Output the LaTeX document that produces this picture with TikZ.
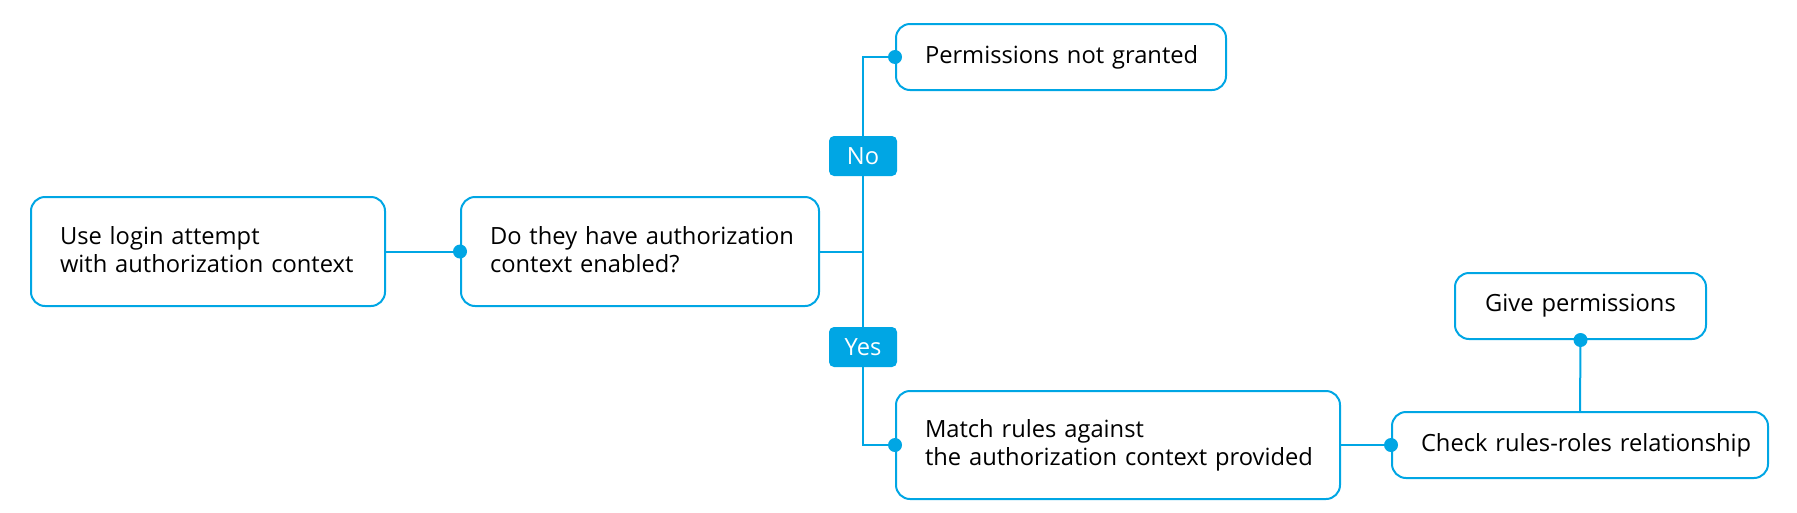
\documentclass[tikz,border=0pt]{standalone}
\usepackage{fontspec}
\setmainfont{Open Sans}
\definecolor{flowblue}{RGB}{0,166,228}
\tikzset{
  box/.style={draw=flowblue, line width=2pt, rounded corners=14pt, anchor=north west,
    inner xsep=29pt, inner ysep=0pt, align=left, font=\fontsize{23.7}{28}\selectfont, text=black},
  tag/.style={fill=flowblue, rounded corners=5pt, minimum width=68pt, minimum height=40pt,
    inner sep=0pt, text=white, font=\fontsize{23.7}{28}\selectfont},
  link/.style={draw=flowblue, line width=2pt},
  dot/.style={fill=flowblue, draw=none}
}
\begin{document}
\begin{tikzpicture}[x=1pt,y=-1pt]
\useasboundingbox (0,0) rectangle (1797,512);
\node[box, text width=296pt, minimum height=109pt] (b1) at (30,196) {\mbox{Use login attempt}\\\mbox{with authorization context}\vspace{4pt}};
\node[box, text width=300pt, minimum height=109pt] (b2) at (460,196) {\mbox{Do they have authorization}\\\mbox{context enabled?}\vspace{4pt}};
\node[box, text width=272pt, minimum height=66pt] (pn) at (895,23) {\mbox{Permissions not granted}};
\node[box, text width=386pt, minimum height=108pt] (m) at (895,390) {\mbox{Match rules against}\\\mbox{the authorization context provided}};
\node[box, text width=318pt, minimum height=66pt] (c) at (1391,411) {\mbox{Check rules-roles relationship}};
\node[box, text width=193pt, minimum height=66pt, align=center] (g) at (1454,272) {\mbox{Give permissions}};
\coordinate (j) at (b2.east -| 863,0);
\draw[link] (b1.east) -- (b2.west);
\draw[link] (b2.east) -- (j);
\draw[link] (pn.west) -| (j) |- (m.west);
\draw[link] (m.east) -- (c.west);
\draw[link] (c.north) -- (g.south);
\node[tag] (no) at (863,156) {No};
\node[tag] (yes) at (863,347) {Yes};
\foreach \p in {b2.west, pn.west, m.west, c.west, g.south}
  \fill[dot] (\p) circle (7pt);
\end{tikzpicture}
\end{document}
